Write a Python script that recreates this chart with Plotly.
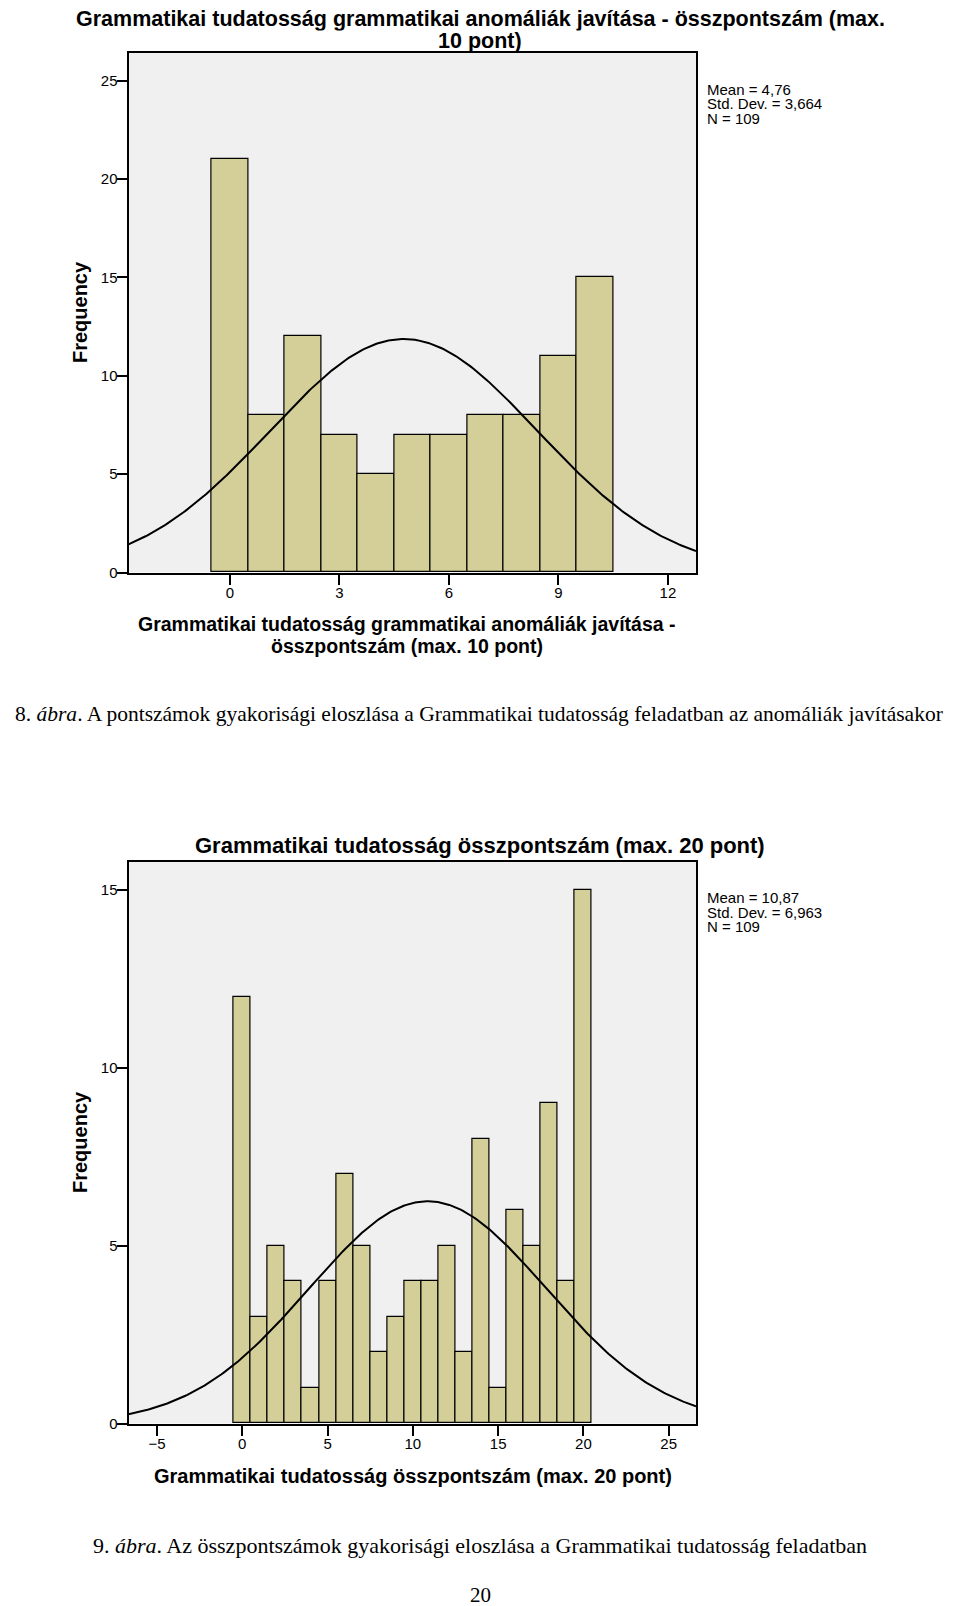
import numpy as np
import plotly.graph_objects as go

# ---- Data ----
scores1 = list(range(0, 11))
freq1 = [21, 8, 12, 7, 5, 7, 7, 8, 8, 11, 15]
mean1, sd1, n1 = 4.76, 3.664, 109
xticks1 = [0, 3, 6, 9, 12]
yticks1 = [0, 5, 10, 15, 20, 25]

scores2 = list(range(0, 21))
freq2 = [12, 3, 5, 4, 1, 4, 7, 5, 2, 3, 4, 4, 5, 2, 8, 1, 6, 5, 9, 4, 15]
mean2, sd2, n2 = 10.87, 6.963, 109
xticks2 = [-5, 0, 5, 10, 15, 20, 25]
yticks2 = [0, 5, 10, 15]

title1_lines = ["Grammatikai tudatosság grammatikai anomáliák javítása - összpontszám (max.", "10 pont)"]
xtitle1_lines = ["Grammatikai tudatosság grammatikai anomáliák javítása -", "összpontszám (max. 10 pont)"]
title2 = "Grammatikai tudatosság összpontszám (max. 20 pont)"
xtitle2 = "Grammatikai tudatosság összpontszám (max. 20 pont)"
stats1 = ["Mean = 4,76", "Std. Dev. = 3,664", "N = 109"]
stats2 = ["Mean = 10,87", "Std. Dev. = 6,963", "N = 109"]
caption1 = "8. <i>ábra</i>. A pontszámok gyakorisági eloszlása a Grammatikai tudatosság feladatban az anomáliák javításakor"
caption2 = "9. <i>ábra</i>. Az összpontszámok gyakorisági eloszlása a Grammatikai tudatosság feladatban"
page_no = "20"

# The page body keeps its default 8px margin; positions below are in window
# pixels and are converted to figure pixels.
OFF_X = 8
W, H = 960 - OFF_X, 1606
BAR = "#d4cf99"
BG = "#f0f0f0"
SANS = "Liberation Sans, Arial, sans-serif"
SERIF = "Liberation Serif, Times New Roman, serif"

xr1 = [-2.78, 12.77]
yr1 = [0, 26.4]
xr2 = [-6.67, 26.6]
yr2 = [0, 15.78]


def normal_curve(m, s, n, xr):
    xs = np.linspace(xr[0], xr[1], 300)
    ys = n * 1.0 / (s * np.sqrt(2 * np.pi)) * np.exp(-0.5 * ((xs - m) / s) ** 2)
    return xs, ys


def px(x):
    return (x - OFF_X) / W


def fig_y(y):
    return y * 1614.0 / 1606.0 - 8


def py(y):
    return 1 - fig_y(y) / H


fig = go.Figure()
fig.add_trace(go.Bar(x=scores1, y=freq1, width=1, marker=dict(color=BAR, line=dict(color="black", width=1.2)),
                     xaxis="x", yaxis="y", showlegend=False))
cx, cy = normal_curve(mean1, sd1, n1, xr1)
fig.add_trace(go.Scatter(x=cx, y=cy, mode="lines", line=dict(color="black", width=2),
                         xaxis="x", yaxis="y", showlegend=False))
fig.add_trace(go.Bar(x=scores2, y=freq2, width=1, marker=dict(color=BAR, line=dict(color="black", width=1.2)),
                     xaxis="x2", yaxis="y2", showlegend=False))
cx2, cy2 = normal_curve(mean2, sd2, n2, xr2)
fig.add_trace(go.Scatter(x=cx2, y=cy2, mode="lines", line=dict(color="black", width=2),
                         xaxis="x2", yaxis="y2", showlegend=False))

xdom = [px(128.5), px(696)]
axis_common = dict(showline=True, mirror=True, linecolor="black", linewidth=2,
                   showgrid=False, zeroline=False, ticks="outside", ticklen=10, tickwidth=2,
                   tickcolor="black", tickfont=dict(family=SANS, size=15, color="black"))

fig.update_layout(
    width=W, height=H, margin=dict(l=0, r=0, t=0, b=0),
    paper_bgcolor="white", plot_bgcolor=BG, bargap=0,
    xaxis=dict(domain=xdom, range=xr1, tickvals=xticks1, anchor="y", ticklabelstandoff=-5, **axis_common),
    yaxis=dict(domain=[py(572.5), py(53)], range=yr1, tickvals=yticks1, anchor="x", ticklabelstandoff=-4, **axis_common),
    xaxis2=dict(domain=xdom, range=xr2, tickvals=xticks2, anchor="y2", ticklabelstandoff=-5, **axis_common),
    yaxis2=dict(domain=[py(1423.5), py(862)], range=yr2, tickvals=yticks2, anchor="x2", ticklabelstandoff=-4, **axis_common),
)

ann = []


def A(text, x, y, size, family=SANS, bold=False, xanchor="center", yanchor="middle", align="center",
      textangle=0, height=None):
    t = f"<b>{text}</b>" if bold else text
    d = dict(text=t, x=px(x), y=py(y), xref="paper", yref="paper", showarrow=False,
             xanchor=xanchor, yanchor=yanchor, align=align, textangle=textangle,
             font=dict(family=family, size=size, color="black"))
    if height is not None:
        d["height"] = height
        d["valign"] = "middle"
    ann.append(d)


# two-line chart title: stacked boxes that just touch (kept inside the figure)
A(title1_lines[0], 480, 19.1, 21.5, bold=True, height=22.5)
A(title1_lines[1], 480, 41.5, 21.5, bold=True, height=22.5)
A(xtitle1_lines[0], 407, 624, 19.5, bold=True)
A(xtitle1_lines[1], 407, 645.5, 19.5, bold=True)
A("Frequency", 80, 312, 20, bold=True, textangle=-90)
for i, s in enumerate(stats1):
    A(s, 705, 89 + i * 14.5, 15, xanchor="left", align="left")
A(caption1, 479, 714, 21.5, family=SERIF)

A(title2, 480, 845, 22, bold=True)
A(xtitle2, 413, 1476, 20, bold=True)
A("Frequency", 80, 1142, 20, bold=True, textangle=-90)
for i, s in enumerate(stats2):
    A(s, 705, 897.5 + i * 14.5, 15, xanchor="left", align="left")
A(caption2, 480, 1545, 22, family=SERIF)
A(page_no, 480, 1595, 21, family=SERIF)

fig.update_layout(annotations=ann)
fig.write_html("out.html")
